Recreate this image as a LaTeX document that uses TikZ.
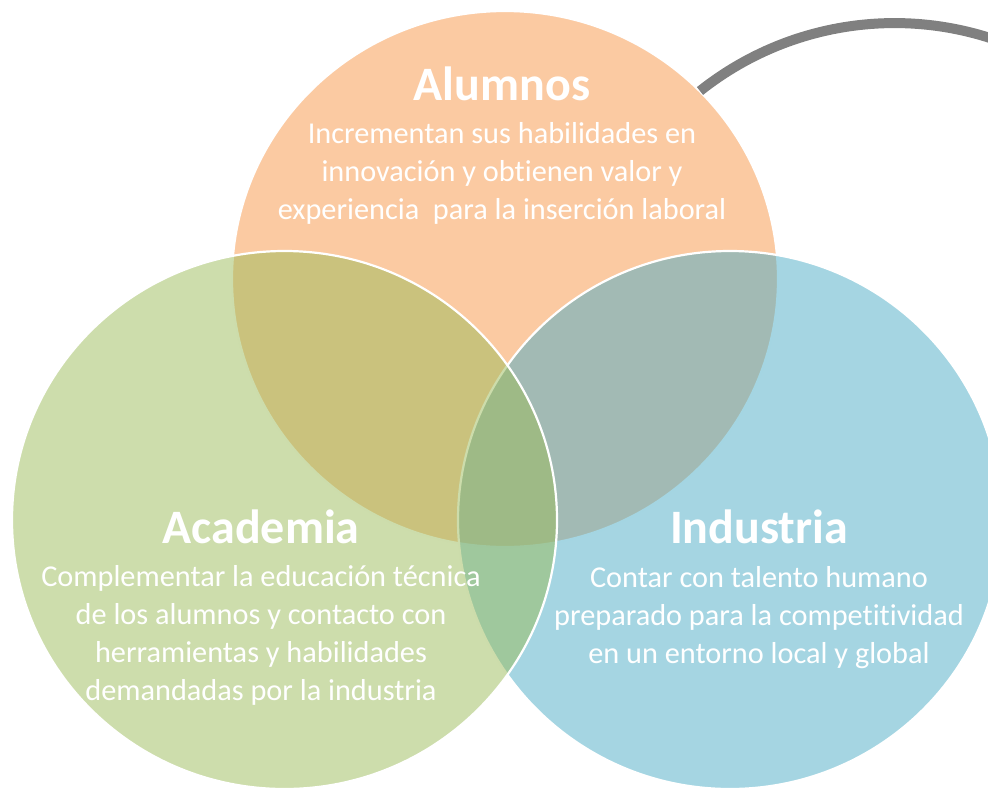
\documentclass[tikz,border=0pt]{standalone}
\usepackage{fontspec}
\setmainfont{Carlito}[Ligatures=NoCommon]
\usetikzlibrary{shapes.geometric}
\definecolor{cOrange}{HTML}{F79646}
\definecolor{cGreen}{HTML}{9BBB59}
\definecolor{cBlue}{HTML}{4BACC6}
\definecolor{cArc}{HTML}{808080}
\begin{document}
\begin{tikzpicture}[x=1pt,y=-1pt,
  venn/.style={ellipse, draw=white, line width=2.2pt, fill=#1, fill opacity=0.5, draw opacity=1, inner sep=0pt, outer sep=0pt},
  ttl/.style={text=white, font=\bfseries\fontsize{48}{52}\selectfont, anchor=base, inner sep=0pt},
  bodytxt/.style={text=white, font=\fontsize{30.3}{37.8}\selectfont, align=center, anchor=base, inner sep=0pt}]
\useasboundingbox (0,0) rectangle (988,793);
\begin{scope}
\clip (0,0) rectangle (988,793);
% circles
\node[venn=cOrange, minimum width=546pt, minimum height=536pt] (alumnos) at (505,279) {};
\node[venn=cBlue, minimum width=544pt, minimum height=538pt] (industria) at (730,520) {};
\node[venn=cGreen, minimum width=545pt, minimum height=538pt] (academia) at (284.5,520) {};
% grey arc
\coordinate (arcstart) at (700,91);
\draw[cArc, line width=10pt] (arcstart) arc[start angle=-128.5, end angle=-60, radius=312.5];
\end{scope}
% texts
\node[ttl] (tA) at (502,100) {Alumnos};
\node[bodytxt] (bA) at (502,219) {Incrementan sus habilidades en\\innovación y obtienen valor y\\experiencia\ \ para la inserción laboral};
\node[ttl] (tC) at (261,543) {Academia};
\node[bodytxt] (bC) at (261,700) {Complementar la educación técnica\\de los alumnos y contacto con\\herramientas y habilidades\\demandadas por la industria};
\node[ttl] (tI) at (759,543) {Industria};
\node[bodytxt] (bI) at (759,663) {Contar con talento humano\\preparado para la competitividad\\en un entorno local y global};
\end{tikzpicture}
\end{document}
